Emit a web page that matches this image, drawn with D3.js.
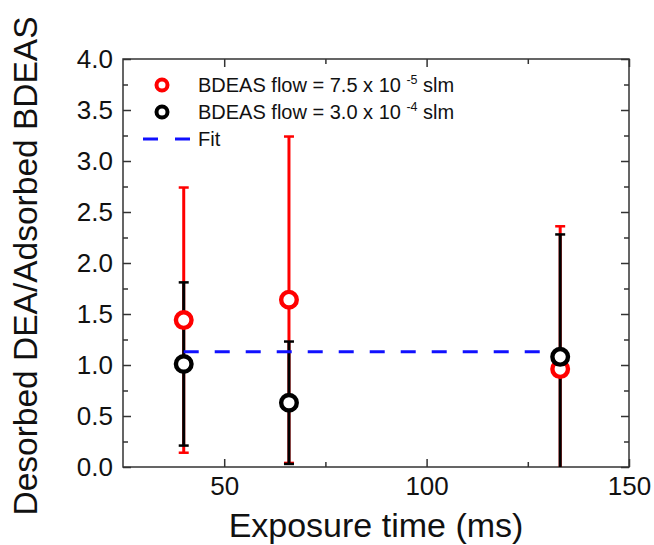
<!DOCTYPE html>
<html>
<head>
<meta charset="utf-8">
<script src="https://cdn.jsdelivr.net/npm/d3@7"></script>
<style>
  body { margin: 0; background: #fff; }
  svg { display: block; font-family: "Liberation Sans", Arial, sans-serif; }
</style>
</head>
<body>
<div id="chart"></div>
<script>
// exposure times (ms)
var times = [40, 66, 133];
// BDEAS flow = 7.5e-5 slm
var redVals = [1.44, 1.64, 0.96];
var redErr = [1.30, 1.60, 1.40];
// BDEAS flow = 3.0e-4 slm
var blackVals = [1.01, 0.63, 1.08];
var blackErr = [0.80, 0.60, 1.20];
// constant fit
var fitValue = 1.13;
var fitRange = [40, 133];

var xMajor = [50, 100, 150];
var xMinor = [75, 125];
var yMajor = [0, 0.5, 1, 1.5, 2, 2.5, 3, 3.5, 4];
var yMinor = [0.25, 0.75, 1.25, 1.75, 2.25, 2.75, 3.25, 3.75];

var width = 654, height = 545;
var pLeft = 123, pRight = 629, pTop = 59, pBottom = 467;

var svg = d3.select("#chart").append("svg")
  .attr("width", width)
  .attr("height", height);

var x = d3.scaleLinear().domain([25, 150]).range([pLeft, pRight]);
var y = d3.scaleLinear().domain([0, 4]).range([pBottom, pTop]);

svg.append("defs").append("clipPath").attr("id", "plot")
  .append("rect")
  .attr("x", pLeft).attr("y", pTop)
  .attr("width", pRight - pLeft).attr("height", pBottom - pTop);

// axes, ticks pointing inward
function styleAxis(g) {
  g.select(".domain").remove();
  g.selectAll(".tick line").attr("stroke", "#333").attr("stroke-width", 1.5);
  g.selectAll(".tick text").attr("fill", "#111").style("font-size", "26px");
}

svg.append("g").attr("transform", "translate(0," + pBottom + ")")
  .call(d3.axisBottom(x).tickValues(xMajor).tickSize(-8).tickPadding(10).tickFormat(d3.format("d")))
  .call(styleAxis);
svg.append("g").attr("transform", "translate(0," + pBottom + ")")
  .call(d3.axisBottom(x).tickValues(xMinor).tickSize(-5).tickFormat(""))
  .call(styleAxis);
svg.append("g").attr("transform", "translate(0," + pTop + ")")
  .call(d3.axisTop(x).tickValues(xMajor).tickSize(-8).tickFormat(""))
  .call(styleAxis);
svg.append("g").attr("transform", "translate(0," + pTop + ")")
  .call(d3.axisTop(x).tickValues(xMinor).tickSize(-5).tickFormat(""))
  .call(styleAxis);

svg.append("g").attr("transform", "translate(" + pLeft + ",0)")
  .call(d3.axisLeft(y).tickValues(yMajor).tickSize(-8).tickPadding(10).tickFormat(d3.format(".1f")))
  .call(styleAxis);
svg.append("g").attr("transform", "translate(" + pLeft + ",0)")
  .call(d3.axisLeft(y).tickValues(yMinor).tickSize(-5).tickFormat(""))
  .call(styleAxis);
svg.append("g").attr("transform", "translate(" + pRight + ",0)")
  .call(d3.axisRight(y).tickValues(yMajor).tickSize(-8).tickFormat(""))
  .call(styleAxis);
svg.append("g").attr("transform", "translate(" + pRight + ",0)")
  .call(d3.axisRight(y).tickValues(yMinor).tickSize(-5).tickFormat(""))
  .call(styleAxis);

svg.append("rect")
  .attr("x", pLeft).attr("y", pTop)
  .attr("width", pRight - pLeft).attr("height", pBottom - pTop)
  .attr("fill", "none").attr("stroke", "#333").attr("stroke-width", 1.5);

// axis titles
svg.append("text")
  .attr("x", (pLeft + pRight) / 2).attr("y", 537)
  .attr("text-anchor", "middle")
  .style("font-size", "34px").attr("fill", "#111")
  .text("Exposure time (ms)");

svg.append("text")
  .attr("transform", "translate(37,266) rotate(-90)")
  .attr("text-anchor", "middle")
  .style("font-size", "33.5px").attr("fill", "#111")
  .text("Desorbed DEA/Adsorbed BDEAS");

var plot = svg.append("g").attr("clip-path", "url(#plot)");

var series = [
  {color: "#ff0000", vals: redVals, err: redErr},
  {color: "#000000", vals: blackVals, err: blackErr}
];

// error bars
series.forEach(function(s) {
  var pts = times.map(function(t, i) {
    return {t: t, v: s.vals[i], e: s.err[i]};
  });
  var g = plot.append("g").attr("stroke", s.color);
  g.selectAll("line.bar").data(pts).enter().append("line")
    .attr("class", "bar")
    .attr("x1", function(d) { return x(d.t); })
    .attr("x2", function(d) { return x(d.t); })
    .attr("y1", function(d) { return y(d.v - d.e); })
    .attr("y2", function(d) { return y(d.v + d.e); })
    .attr("stroke-width", 3);
  var caps = [];
  pts.forEach(function(d) {
    caps.push({t: d.t, v: d.v + d.e});
    caps.push({t: d.t, v: d.v - d.e});
  });
  g.selectAll("line.cap").data(caps).enter().append("line")
    .attr("class", "cap")
    .attr("x1", function(d) { return x(d.t) - 5; })
    .attr("x2", function(d) { return x(d.t) + 5; })
    .attr("y1", function(d) { return y(d.v); })
    .attr("y2", function(d) { return y(d.v); })
    .attr("stroke-width", 2.5);
});

// fit
plot.append("line")
  .attr("x1", x(fitRange[0])).attr("x2", x(fitRange[1]))
  .attr("y1", y(fitValue)).attr("y2", y(fitValue))
  .attr("stroke", "#1010ff").attr("stroke-width", 3)
  .attr("stroke-dasharray", "15,16");

// markers
series.forEach(function(s) {
  plot.append("g").selectAll("circle").data(times).enter().append("circle")
    .attr("cx", function(d) { return x(d); })
    .attr("cy", function(d, i) { return y(s.vals[i]); })
    .attr("r", 7.8)
    .attr("fill", "#fff")
    .attr("stroke", s.color)
    .attr("stroke-width", 4.4);
});

// legend
var legend = svg.append("g");
var legendRows = [
  {color: "#ff0000", mant: "BDEAS flow = 7.5 x 10 ", exp: "-5", y: 85},
  {color: "#000000", mant: "BDEAS flow = 3.0 x 10 ", exp: "-4", y: 112}
];
legendRows.forEach(function(r) {
  legend.append("circle")
    .attr("cx", 162).attr("cy", r.y).attr("r", 5.5)
    .attr("fill", "#fff").attr("stroke", r.color).attr("stroke-width", 4);
  var t = legend.append("text")
    .attr("x", 198).attr("y", r.y + 6.5)
    .style("font-size", "20px").attr("fill", "#111");
  t.append("tspan").text(r.mant);
  t.append("tspan").attr("dy", -8).style("font-size", "12.5px").text(r.exp);
  t.append("tspan").attr("dy", 8).text(" slm");
});
legend.append("line")
  .attr("x1", 143).attr("x2", 192).attr("y1", 139).attr("y2", 139)
  .attr("stroke", "#1010ff").attr("stroke-width", 3)
  .attr("stroke-dasharray", "15,17");
legend.append("text")
  .attr("x", 198).attr("y", 146)
  .style("font-size", "20px").attr("fill", "#111")
  .text("Fit");
</script>
</body>
</html>
